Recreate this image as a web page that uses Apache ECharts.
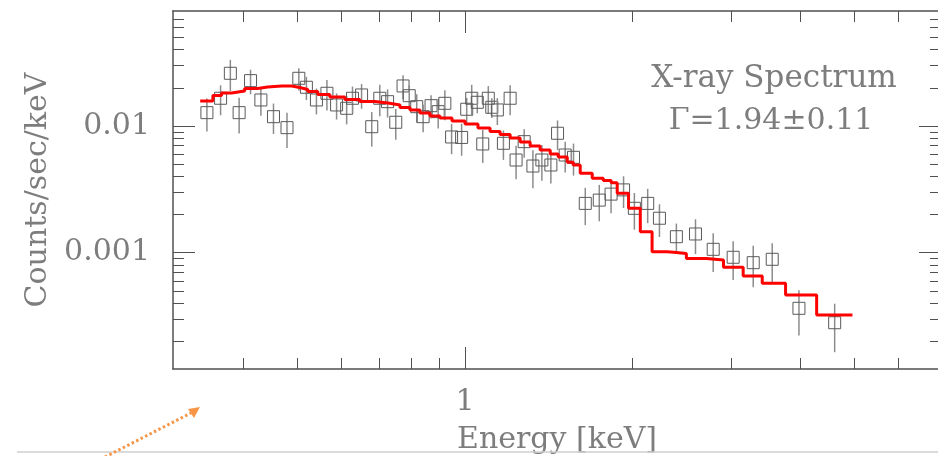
<!DOCTYPE html>
<html>
<head>
<meta charset="utf-8">
<script src="https://cdn.jsdelivr.net/npm/echarts@6/dist/echarts.min.js"></script>
<style>
html,body{margin:0;padding:0;background:#fff;}
#spectrum{width:938px;height:456px;}
</style>
</head>
<body>
<div id="spectrum"></div>
<script>
// observed spectrum (keV, counts/sec/keV, 1 sigma)
var energy = [0.344,0.364,0.379,0.393,0.412,0.430,0.453,0.479,0.503,0.519,
    0.541,0.565,0.588,0.613,0.628,0.652,0.680,0.703,0.726,0.751,
    0.774,0.794,0.819,0.841,0.869,0.895,0.920,0.946,0.986,1.007,
    1.028,1.052,1.076,1.101,1.117,1.143,1.172,1.205,1.235,1.277,
    1.324,1.374,1.426,1.466,1.513,1.566,1.644,1.742,1.829,1.926,
    2.014,2.128,2.234,2.396,2.593,2.790,3.030,3.292,3.561,3.977,4.610];
var counts = [0.01274,0.01655,0.02606,0.01274,0.02279,0.01604,0.01184,0.00970,0.02379,0.02021,
    0.01604,0.01812,0.01465,0.01379,0.01655,0.01757,0.00987,0.01655,0.01555,0.01070,
    0.02069,0.01734,0.01420,0.01184,0.01446,0.01297,0.01510,0.00819,0.00812,0.01355,
    0.01655,0.01538,0.00721,0.01655,0.01405,0.01338,0.00730,0.01655,0.00539,0.00752,
    0.00483,0.00539,0.00492,0.00876,0.00590,0.00566,0.00245,0.00260,0.00290,0.00313,
    0.00224,0.00245,0.00187,0.001337,0.001405,0.001063,0.00092,0.000834,0.000887,0.000364,0.00028];
var countsErr = [0.0037,0.0044,0.0072,0.0040,0.0050,0.0040,0.0032,0.0030,0.0047,0.0042,
    0.0037,0.0049,0.0034,0.0035,0.0039,0.0039,0.0030,0.0046,0.0039,0.0029,
    0.0044,0.0036,0.0036,0.0029,0.0030,0.0034,0.0040,0.0022,0.0023,0.0031,
    0.0046,0.0028,0.0021,0.0041,0.0025,0.0032,0.0019,0.0044,0.0016,0.0019,
    0.0016,0.0017,0.0014,0.0023,0.0016,0.0016,0.0008,0.00083,0.00085,0.00088,
    0.00072,0.00074,0.00054,0.00036,0.00043,0.00036,0.00031,0.00030,0.00030,0.000142,0.000116];

// power-law model, left edge of each bin + level
var modelEdges = [0.3346,0.3526,0.3655,0.3810,0.4021,0.4243,0.4422,0.4688,0.4886,0.5051,
    0.5220,0.5441,0.5718,0.6084,0.6473,0.6889,0.7272,0.7641,0.7964,0.8300,
    0.8651,0.9016,0.9476,1.000,1.055,1.109,1.156,1.205,1.256,1.309,
    1.364,1.422,1.470,1.526,1.564,1.610,1.692,1.771,1.830,1.876,
    1.966,2.064,2.167,2.308,2.396,2.497,2.713,2.911,3.158,3.417,
    3.763,4.279];
var modelFlux = [0.01575,0.01740,0.01822,0.01889,0.01977,0.02032,0.02069,0.02069,0.02013,0.01942,
    0.01872,0.01772,0.01694,0.01619,0.01561,0.01519,0.01465,0.01400,0.01338,0.01266,
    0.01199,0.01156,0.01095,0.01037,0.00964,0.00905,0.00857,0.00804,0.00748,0.00695,
    0.00646,0.00601,0.00569,0.00517,0.00492,0.00423,0.00387,0.00371,0.00357,0.00294,
    0.00224,0.001464,0.001018,0.001004,0.000986,0.000900,0.000876,0.000767,0.000655,0.000573,
    0.000463,0.000322];
var modelEnd = 4.962;

var xRange = [0.299, 7.155];
var yRange = [1.208e-4, 0.0808];
var xMajor = [1];
var xMinor = [0.4,0.5,0.6,0.7,0.8,0.9,2,3,4,5,6];
var yMajor = [0.001, 0.01];
var yMinor = [0.0002,0.0003,0.0004,0.0005,0.0006,0.0007,0.0008,0.0009,
    0.002,0.003,0.004,0.005,0.006,0.007,0.008,0.009,
    0.02,0.03,0.04,0.05,0.06,0.07];

var FONT = 'DejaVu Serif';
var TXT = '#7d7d7d';
var AXC = '#505050';

function lg(v) { return Math.log10(v); }
function fmtLog(v) { return String(+Math.pow(10, v).toPrecision(3)); }

// one axis = one set of ticks (major or minor) on one side
function makeAxis(pos, range, ticks, len, withLine) {
    return {
        type: 'value',
        position: pos,
        min: lg(range[0]),
        max: lg(range[1]),
        axisLine: {show: withLine, onZero: false, lineStyle: {color: AXC, width: 1.5}},
        axisTick: {show: true, inside: true, length: len, customValues: ticks.map(lg),
            lineStyle: {color: AXC, width: 1}},
        axisLabel: {show: false},
        splitLine: {show: false}
    };
}

var xBottom = makeAxis('bottom', xRange, xMajor, 22, true);
xBottom.axisLabel = {show: true, customValues: xMajor.map(lg), formatter: fmtLog, margin: 18,
    fontFamily: FONT, fontSize: 30, color: TXT};
xBottom.name = 'Energy [keV]';
xBottom.nameLocation = 'middle';
xBottom.nameGap = 56;
xBottom.nameTextStyle = {fontFamily: FONT, fontSize: 30, color: TXT};

var yLeft = makeAxis('left', yRange, yMajor, 22, true);
yLeft.axisLabel = {show: true, customValues: yMajor.map(lg), formatter: fmtLog, margin: 23,
    fontFamily: FONT, fontSize: 30, color: TXT};
yLeft.name = 'Counts/sec/keV';
yLeft.nameLocation = 'middle';
yLeft.nameGap = 119;
yLeft.nameTextStyle = {fontFamily: FONT, fontSize: 30, color: TXT};

var points = [];
for (var i = 0; i < energy.length; i++) {
    points.push([lg(energy[i]), lg(counts[i]), lg(counts[i] - countsErr[i]), lg(counts[i] + countsErr[i])]);
}
var model = [];
for (var j = 0; j < modelEdges.length; j++) {
    model.push([lg(modelEdges[j]), lg(modelFlux[j])]);
}
model.push([lg(modelEnd), lg(modelFlux[modelFlux.length - 1])]);

var myChart = echarts.init(document.getElementById('spectrum'));
var option = {
    animation: false,
    backgroundColor: '#fff',
    grid: {left: 173, top: 11, right: -3, bottom: 87, containLabel: false, outerBoundsMode: 'none'},
    xAxis: [
        xBottom,
        makeAxis('bottom', xRange, xMinor, 11, false),
        makeAxis('top', xRange, xMajor, 22, true),
        makeAxis('top', xRange, xMinor, 11, false)
    ],
    yAxis: [
        yLeft,
        makeAxis('left', yRange, yMinor, 11, false),
        makeAxis('right', yRange, yMajor, 22, true),
        makeAxis('right', yRange, yMinor, 11, false)
    ],
    series: [
        {
            type: 'custom',
            xAxisIndex: 0,
            yAxisIndex: 0,
            data: points,
            z: 2,
            renderItem: function (params, api) {
                var c = api.coord([api.value(0), api.value(1)]);
                var lo = api.coord([api.value(0), api.value(2)]);
                var hi = api.coord([api.value(0), api.value(3)]);
                return {
                    type: 'group',
                    children: [
                        {type: 'line', shape: {x1: c[0], y1: hi[1], x2: c[0], y2: lo[1]},
                            style: {stroke: '#8c8c8c', lineWidth: 1.5}},
                        {type: 'rect', shape: {x: c[0] - 6, y: c[1] - 6, width: 12, height: 12},
                            style: {fill: 'none', stroke: '#5a5a5a', lineWidth: 1}}
                    ]
                };
            }
        },
        {
            type: 'line',
            xAxisIndex: 0,
            yAxisIndex: 0,
            data: model,
            step: 'end',
            showSymbol: false,
            z: 3,
            lineStyle: {color: '#ff0000', width: 3}
        }
    ],
    graphic: [
        {type: 'text', x: 774, y: 79, z: 10,
            style: {text: 'X-ray Spectrum', font: '31px "DejaVu Serif"', fill: TXT,
                textAlign: 'center', textVerticalAlign: 'middle'}},
        {type: 'text', x: 771, y: 121, z: 10,
            style: {text: 'Γ=1.94±0.11', font: '30px "DejaVu Serif"', fill: TXT,
                textAlign: 'center', textVerticalAlign: 'middle'}},
        {type: 'line', z: 10, shape: {x1: 17, y1: 452, x2: 938, y2: 452},
            style: {stroke: '#cfcfcf', lineWidth: 1.5}},
        {type: 'line', z: 10, shape: {x1: 105, y1: 457, x2: 191, y2: 413},
            style: {stroke: '#f79646', lineWidth: 3, lineDash: [2.5, 2.5]}},
        {type: 'polygon', z: 10, shape: {points: [[188, 409], [200, 407], [194, 418]]},
            style: {fill: '#f79646'}}
    ]
};
myChart.setOption(option);
</script>
</body>
</html>
